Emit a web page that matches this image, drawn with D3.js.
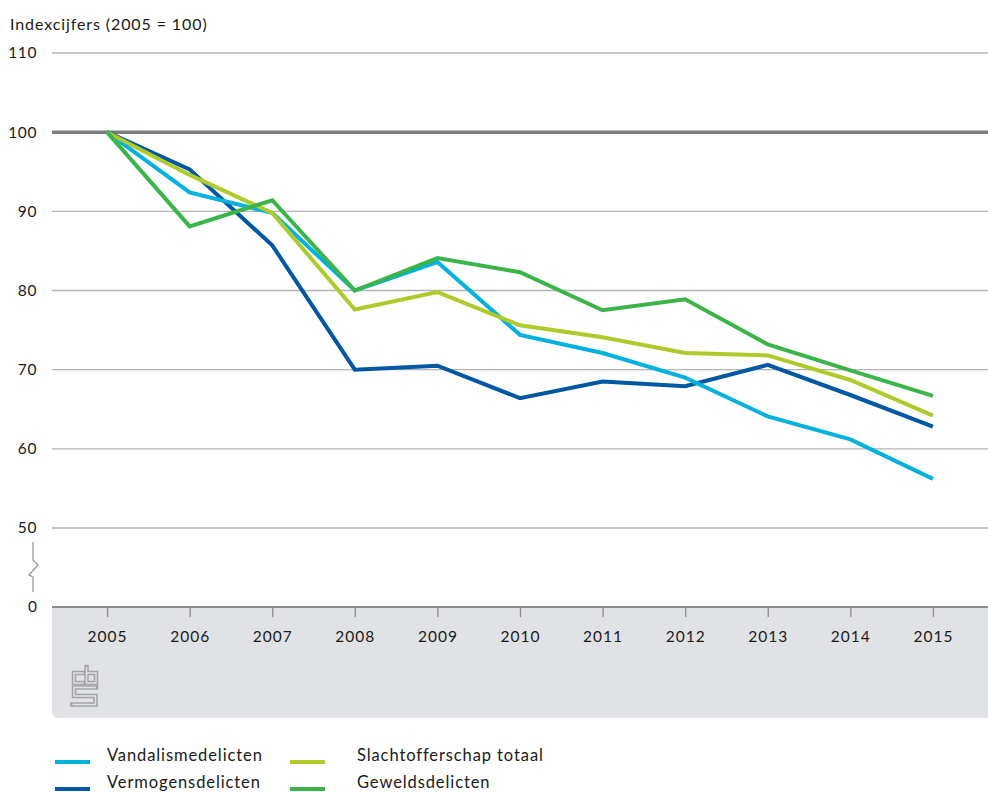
<!DOCTYPE html>
<html>
<head>
<meta charset="utf-8">
<script src="https://cdn.jsdelivr.net/npm/d3@7"></script>
<style>
  html, body { margin: 0; padding: 0; background: #fff; }
  svg text { font-family: "Lato", "Noto Sans", sans-serif; fill: #1a1a1a; }
</style>
</head>
<body>
<svg id="chart" width="988" height="792"></svg>
<script>
// Index figures, 2005 = 100
const years = [2005, 2006, 2007, 2008, 2009, 2010, 2011, 2012, 2013, 2014, 2015];
const vandalisme   = [100, 92.4, 89.8, 80.0, 83.6, 74.4, 72.1, 69.0, 64.1, 61.2, 56.2];
const vermogens    = [100, 95.3, 85.7, 70.0, 70.5, 66.4, 68.5, 67.9, 70.6, 66.8, 62.8];
const slachtoffer  = [100, 94.6, 89.8, 77.6, 79.8, 75.6, 74.1, 72.1, 71.8, 68.7, 64.2];
const geweld       = [100, 88.1, 91.4, 80.0, 84.1, 82.3, 77.5, 78.9, 73.2, 69.9, 66.7];
const yTicks = [50, 60, 70, 80, 90, 100, 110];
const seriesNames = ["Vandalismedelicten", "Vermogensdelicten", "Slachtofferschap totaal", "Geweldsdelicten"];
const seriesColors = ["#00b1e0", "#0057a2", "#afca2b", "#3bb449"];
const seriesValues = [vandalisme, vermogens, slachtoffer, geweld];
// draw order (back to front)
const drawOrder = [1, 0, 2, 3];

const svg = d3.select("#chart");
const left = 52, right = 988;
const fontFamily = "Lato, 'Noto Sans', sans-serif";

const x = d3.scalePoint().domain(years).range([left, right]).padding(0.667);
const y = d3.scaleLinear().domain([50, 110]).range([528, 53]);
const yZero = 607;

// horizontal grid
const grid = svg.append("g");
yTicks.forEach(t => {
  grid.append("line")
    .attr("x1", left).attr("x2", right)
    .attr("y1", y(t)).attr("y2", y(t))
    .attr("stroke", t === 100 ? "#7d7d7d" : "#b4b4b4")
    .attr("stroke-width", t === 100 ? 3.5 : 1.4);
  grid.append("text")
    .attr("x", 37).attr("y", y(t)).attr("dy", "0.35em")
    .attr("text-anchor", "end").attr("font-size", 15.5).attr("letter-spacing", 0.6)
    .text(t);
});
// zero label
svg.append("text").attr("x", 37).attr("y", yZero).attr("dy", "0.35em")
  .attr("text-anchor", "end").attr("font-size", 15.5).text(0);

// axis break symbol
svg.append("path")
  .attr("d", "M33,542 V560 L38,565 L29,575 L33,577 V592")
  .attr("fill", "none").attr("stroke", "#999").attr("stroke-width", 1.3);

// grey footer band behind the x axis
const bandBottom = 718, r = 7;
svg.append("path")
  .attr("d", `M${left},${yZero} H${right} V${bandBottom} H${left + r} Q${left},${bandBottom} ${left},${bandBottom - r} Z`)
  .attr("fill", "#e1e2e5");

// x axis
const xAxis = svg.append("g").attr("transform", `translate(0,${yZero})`)
  .call(d3.axisBottom(x).tickSize(10).tickPadding(14).tickFormat(d3.format("d")));
xAxis.select(".domain").attr("d", `M${left},0H${right}`).attr("stroke", "#8c8c8c").attr("stroke-width", 2);
xAxis.selectAll(".tick line").attr("stroke", "#8c8c8c").attr("stroke-width", 1.3);
xAxis.selectAll(".tick text").attr("font-size", 15.5).attr("fill", "#1a1a1a")
  .attr("letter-spacing", 1).attr("font-family", fontFamily);

// y title
svg.append("text").attr("x", 10).attr("y", 30).attr("font-size", 16)
  .attr("letter-spacing", 0.9)
  .text("Indexcijfers (2005 = 100)");

// small outlined logo mark in the footer
const logoPaths = [
  "M83.5,673 H74 V683 H83.5",
  "M86.5,667 V683 H96 V673 H86.5",
  "M96,687.5 H74 V696 H95.5 V704.5 H72.5"
];
const logo = svg.append("g").attr("fill", "none");
logoPaths.forEach(d => {
  logo.append("path").attr("d", d).attr("stroke", "#a3a4a7").attr("stroke-width", 4.5)
    .attr("stroke-linecap", "square").attr("stroke-linejoin", "miter");
  logo.append("path").attr("d", d).attr("stroke", "#e1e2e5").attr("stroke-width", 1.4)
    .attr("stroke-linejoin", "miter");
});

// lines
const line = d3.line().x((d, i) => x(years[i])).y(d => y(d));
drawOrder.forEach(k => {
  svg.append("path")
    .datum(seriesValues[k])
    .attr("fill", "none")
    .attr("stroke", seriesColors[k])
    .attr("stroke-width", 4)
    .attr("stroke-linejoin", "miter")
    .attr("d", line);
});

// legend
const legendPos = [[55, 762], [55, 789], [290, 762], [290, 789]];
seriesNames.forEach((name, k) => {
  const [lx, ly] = legendPos[k];
  svg.append("line").attr("x1", lx).attr("x2", lx + 35)
    .attr("y1", ly).attr("y2", ly)
    .attr("stroke", seriesColors[k]).attr("stroke-width", 4);
  svg.append("text").attr("x", lx + 52 + (k >= 2 ? 15 : 0)).attr("y", ly - 7)
    .attr("dy", "0.35em").attr("font-size", 16.5).attr("letter-spacing", 0.9)
    .text(name);
});
</script>
</body>
</html>
